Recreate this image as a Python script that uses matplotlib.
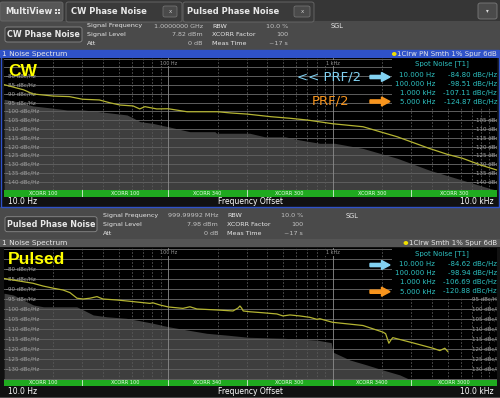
import matplotlib
matplotlib.use('Agg')
import matplotlib.pyplot as plt
from matplotlib.patches import Rectangle, FancyBboxPatch, Polygon

# ---- data ----
cw_freq = [10, 13.2, 15, 20, 25, 30, 38, 44, 51, 61, 67, 72, 85, 100, 130, 200, 240, 300,
           420, 550, 700, 1000, 1530, 2470, 3870, 5000, 6160, 8000, 10000]
cw_trace = [-84.8, -87.8, -90.1, -91.3, -91.6, -93.1, -93.5, -95.1, -96.4, -96.9, -98.6, -97.3,
            -98.6, -98.5, -100.2, -100.2, -100.9, -101.5, -103.0, -103.9, -104.9, -107.0,
            -108.7, -114.4, -121.0, -124.4, -126.6, -130.5, -133.3]
cw_floor_freq = [10, 12, 15, 20, 24.2, 30.3, 38.4, 56, 61, 67.2, 80.5, 100, 135, 192, 197, 313,
                 386, 514, 631, 836, 1030, 1528, 2473, 3866, 6164, 9040, 10000]
cw_floor = [-93.1, -94.5, -96.9, -98.2, -99.2, -99.2, -100.2, -102.0, -103.7, -105.8, -106.8,
            -108.7, -111.5, -111.5, -112.4, -112.4, -114.4, -114.4, -116.2, -118.1, -118.1,
            -121.0, -126.6, -133.3, -139.0, -143.7, -144.7]

pl_freq = [10, 12, 15, 17.3, 20, 22.9, 25.2, 27.8, 30.3, 33.3, 36.8, 40, 48.7, 60.9, 77.3, 80.5,
           88.9, 100, 122.7, 135.3, 149.2, 197.5, 247.3, 266, 272.6, 279, 285.6, 313.5, 375.9,
           457.7, 498, 549.5, 631, 726, 801.7, 835.6, 922, 1000, 1528, 2019, 2100, 2198, 2260,
           2322, 3076, 4070, 4487, 4812, 5022]
pl_trace = [-84.6, -85.7, -87.0, -88.4, -89.5, -90.4, -91.7, -94.5, -94.9, -94.5, -93.7, -94.9,
            -95.4, -96.2, -97.1, -96.8, -97.9, -98.9, -99.6, -98.8, -99.9, -100.4, -100.9, -99.4,
            -98.4, -99.4, -100.9, -101.3, -101.8, -102.4, -103.4, -102.9, -103.4, -104.1, -105.1,
            -104.8, -105.8, -106.6, -108.2, -111.5, -112.3, -117.1, -115.5, -114.3, -116.9,
            -119.6, -120.8, -119.6, -121.3]
pl_floor_freq = [10, 11.4, 12.5, 13.7, 15.1, 17.4, 27.7, 29, 30.4, 34.9, 42.1, 55.7, 67.2, 80.9,
                 100, 129, 171, 226, 306, 500, 800, 980, 1000, 1273, 1615, 2019, 2564, 2950]
pl_floor = [-92.0, -92.9, -94.5, -96.2, -97.9, -98.8, -98.8, -99.6, -100.4, -102.9, -103.8,
            -104.6, -105.8, -107.1, -108.8, -110.4, -112.1, -113.0, -114.1, -114.6, -115.5,
            -116.8, -121.5, -125.5, -128.0, -130.5, -133.0, -135.3]

spot_offsets = ['10.000 Hz', '100.000 Hz', '1.000 kHz', '5.000 kHz']
cw_spot = ['-84.80 dBc/Hz', '-98.51 dBc/Hz', '-107.11 dBc/Hz', '-124.87 dBc/Hz']
pl_spot = ['-84.62 dBc/Hz', '-98.94 dBc/Hz', '-106.69 dBc/Hz', '-120.88 dBc/Hz']

xcorr_edges = [10, 30, 100, 300, 1000, 3000, 10000]
cw_xcorr = ['XCORR 100', 'XCORR 100', 'XCORR 340', 'XCORR 300', 'XCORR 300', 'XCORR 300']
pl_xcorr = ['XCORR 100', 'XCORR 100', 'XCORR 340', 'XCORR 300', 'XCORR 3400', 'XCORR 3000']

W, H = 500, 398
fig = plt.figure(figsize=(5, 3.98), dpi=100)
fig.patch.set_facecolor('#4a4a4a')
plt.rcParams['font.family'] = 'DejaVu Sans'


def box(x0, y0, x1, y1, z=-1, **kw):
    r = Rectangle((x0 / W, 1 - y1 / H), (x1 - x0) / W, (y1 - y0) / H,
                  transform=fig.transFigure, zorder=z, **kw)
    fig.add_artist(r)
    return r


def rbox(x0, y0, x1, y1, z=-1, r=0.005, **kw):
    p = FancyBboxPatch((x0 / W, 1 - y1 / H), (x1 - x0) / W, (y1 - y0) / H,
                       boxstyle='round,pad=0,rounding_size=%g' % r,
                       transform=fig.transFigure, zorder=z, **kw)
    fig.add_artist(p)


def txt(x, y, s, **kw):
    kw.setdefault('va', 'center')
    kw.setdefault('fontsize', 5)
    kw.setdefault('color', '#e8e8e8')
    return fig.text(x / W, 1 - y / H, s, **kw)


def arrow(x0, x1, y, color):
    xh = x1 - 8.5
    pts = [(x0, y - 1.6), (xh, y - 1.6), (xh, y - 4.5), (x1, y), (xh, y + 4.5), (xh, y + 1.6),
           (x0, y + 1.6)]
    fig.add_artist(Polygon([(px / W, 1 - py / H) for px, py in pts], closed=True,
                           transform=fig.transFigure, color=color, zorder=6))


# ---- tab bar ----
box(0, 0, 500, 21, facecolor='#363636')
rbox(0, 2, 63, 21, facecolor='#575757', edgecolor='#6a6a6a', lw=0.6)
txt(5, 12, 'MultiView', fontsize=6, fontweight='bold')
for dx, dy in [(0, 0), (3, 0), (0, 3), (3, 3)]:
    box(55 + dx, 9 + dy, 57 + dx, 11 + dy, z=2, facecolor='#dddddd')
rbox(66, 2, 182, 22, facecolor='#3a3a3a', edgecolor='#6a6a6a', lw=0.6)
txt(71, 12, 'CW Phase Noise', fontsize=6, fontweight='bold')
rbox(163, 6, 177, 17, z=1, facecolor='#4a4a4a', edgecolor='#7a7a7a', lw=0.5, r=0.004)
txt(170, 11.5, 'x', fontsize=4, ha='center', color='#cccccc')
rbox(183, 2, 314, 22, facecolor='#3a3a3a', edgecolor='#6a6a6a', lw=0.6)
txt(187, 12, 'Pulsed Phase Noise', fontsize=6, fontweight='bold')
rbox(294, 6, 310, 17, z=1, facecolor='#4a4a4a', edgecolor='#7a7a7a', lw=0.5, r=0.004)
txt(302, 11.5, 'x', fontsize=4, ha='center', color='#cccccc')
rbox(478, 3, 497, 19, facecolor='#4a4a4a', edgecolor='#7a7a7a', lw=0.6)
txt(487.5, 11, '\u25be', fontsize=4, ha='center', color='#dddddd')


def info(y0, name, bx1, lx, vx, l2x, v2x, sglx, freq, level):
    rbox(5, y0 + 7, bx1, y0 + 22, facecolor='#3a3a3a', edgecolor='#8a8a8a', lw=0.6)
    txt((5 + bx1) / 2, y0 + 14.8, name, fontsize=5.8, fontweight='bold', ha='center')
    rows = [('Signal Frequency', freq, 'RBW', '10.0 %'),
            ('Signal Level', level, 'XCORR Factor', '100'),
            ('Att', '0 dB', 'Meas Time', '~17 s')]
    for i, (a, b, c, d) in enumerate(rows):
        yy = y0 + 6 + i * 8.7
        txt(lx, yy, a, fontsize=4.6)
        txt(vx, yy, b, ha='right', color='#c4c4c4', fontsize=4.6)
        txt(l2x, yy, c, fontsize=4.6)
        txt(v2x, yy, d, ha='right', color='#c4c4c4', fontsize=4.6)
    txt(sglx, y0 + 6, 'SGL', fontsize=4.8)


info(20, 'CW Phase Noise', 82, 87, 203, 212, 288, 331, '1.0000000 GHz', '7.82 dBm')
info(209.7, 'Pulsed Phase Noise', 97, 103, 218, 227, 303, 346, '999.99992 MHz', '7.98 dBm')


def panel(top, bot, ylo, yhi, title_y, title_col, trace_label,
          freq, trace, ffreq, floor, left_lab, right_lab, right_x, xcorr):
    # frame and title bar
    box(0, title_y - 4, 500, bot + 17, facecolor='#111111')
    box(0, title_y - 4, 500, title_y + 4, facecolor=title_col)
    txt(2, title_y, '1 Noise Spectrum', fontsize=5.3)
    t = txt(497, title_y, trace_label, fontsize=5, ha='right')
    fig.canvas.draw()
    bb = t.get_window_extent()
    fig.add_artist(plt.Circle(((bb.x0 - 3) / W, 1 - title_y / H), 1.6 / W,
                              transform=fig.transFigure, color='#f0e000', zorder=3))

    ax = fig.add_axes([4 / W, 1 - bot / H, 493 / W, (bot - top) / H])
    ax.set_facecolor('black')
    ax.set_xscale('log')
    ax.set_xlim(10, 10000)
    ax.set_ylim(ylo, yhi)
    ax.set_xticks([])
    ax.set_yticks([])
    ax.minorticks_off()
    for s in ax.spines.values():
        s.set_visible(False)
    ax.fill_between(ffreq, floor, ylo, color='#3e3e3e', lw=0, zorder=1)
    for d in range(-145, -65, 5):
        ax.axhline(d, color='#5e5e5e', lw=0.7, zorder=2)
    for e in (1, 2, 3):
        for k in range(2, 10):
            ax.axvline(k * 10 ** e, color='#5a5a5a', lw=0.6, ls=(0, (2, 2)), zorder=2)
    for m in (100, 1000):
        ax.axvline(m, color='#8c8c8c', lw=0.6, zorder=2)
    ax.text(100, 0.962, '100 Hz', transform=ax.get_xaxis_transform(), fontsize=3.5,
            color='#9a9a9a', ha='center', va='center', zorder=3,
            bbox=dict(facecolor='black', edgecolor='none', pad=0.3))
    ax.text(1000, 0.962, '1 kHz', transform=ax.get_xaxis_transform(), fontsize=3.5,
            color='#9a9a9a', ha='center', va='center', zorder=3,
            bbox=dict(facecolor='black', edgecolor='none', pad=0.3))
    for d in left_lab:
        ax.text(0.005, d, '%d dBc/Hz' % d, transform=ax.get_yaxis_transform(), fontsize=4,
                color='#a0a0a0', va='center', zorder=3)
    for d in right_lab:
        ax.text(right_x, d, '%d dBc/Hz' % d, transform=ax.get_yaxis_transform(), fontsize=4,
                color='#a0a0a0', va='center', zorder=3, clip_on=True)
    ax.plot(freq, trace, color='#b4b432', lw=0.9, zorder=4)

    # XCORR bar
    gx = fig.add_axes([4 / W, 1 - (bot + 6.5) / H, 493 / W, 6.5 / H])
    gx.set_facecolor('#1faa1f')
    gx.set_xscale('log')
    gx.set_xlim(10, 10000)
    gx.set_ylim(0, 1)
    gx.set_xticks([])
    gx.set_yticks([])
    gx.minorticks_off()
    for s in gx.spines.values():
        s.set_visible(False)
    for e in xcorr_edges[1:-1]:
        gx.axvline(e, color='#d8f0d8', lw=0.6)
    for i, lab in enumerate(xcorr):
        c = (xcorr_edges[i] * xcorr_edges[i + 1]) ** 0.5
        gx.text(c, 0.5, lab, fontsize=3.6, color='#e8ffe8', ha='center', va='center')

    # bottom label bar
    yb = bot + 11.5
    txt(8, yb, '10.0 Hz', fontsize=5.5, color='white')
    txt(250, yb, 'Frequency Offset', fontsize=5.5, color='white', ha='center')
    txt(494, yb, '10.0 kHz', fontsize=5.5, color='white', ha='right')


panel(58, 190, -144.6, -69.7, 54, '#2f52c8', '1Clrw PN Smth 1% Spur 6dB',
      cw_freq, cw_trace, cw_floor_freq, cw_floor,
      list(range(-140, -75, 5)), list(range(-140, -100, 5)), 0.953, cw_xcorr)
panel(248, 379.5, -135.3, -69.3, 243, '#555555', '1Clrw Smth 1% Spur 6dB',
      pl_freq, pl_trace, pl_floor_freq, pl_floor,
      list(range(-130, -75, 5)), list(range(-130, -90, 5)), 0.945, pl_xcorr)

# active window outline
fig.add_artist(Rectangle((0.8 / W, 1 - 206.5 / H), 498.4 / W, 156.5 / H, transform=fig.transFigure,
                         fill=False, edgecolor='#2f52c8', lw=1.0, zorder=8))

# ---- overlays: titles, PRF arrows, spot noise tables ----
txt(8, 71.5, 'CW', fontsize=12.5, fontweight='bold', color='#ffff00',
    family='Liberation Sans', zorder=7)
txt(8, 259, 'Pulsed', fontsize=12.5, fontweight='bold', color='#ffff00',
    family='Liberation Sans', zorder=7)
txt(297, 77, '<< PRF/2', fontsize=9.5, color='#82d2f2', zorder=7)
txt(312, 101, 'PRF/2', fontsize=9.5, color='#f7941d', zorder=7)


def spot_table(top, ys, values):
    box(392, top, 497, ys[-1] + 5, z=5, facecolor='black')
    txt(442, top + 5.5, 'Spot Noise [T1]', color='#2ec2c2', ha='center', zorder=7)
    for yy, a, b in zip(ys, spot_offsets, values):
        txt(435, yy, a, color='#2ec2c2', ha='right', zorder=7)
        txt(497, yy, b, color='#2ec2c2', ha='right', zorder=7)


spot_table(58.5, [75, 83.7, 92.7, 101.7], cw_spot)
spot_table(248.5, [264, 272.9, 282.3, 291.5], pl_spot)
arrow(370, 390, 77, '#82d2f2')
arrow(370, 390, 101.5, '#f7941d')
arrow(370, 390, 265, '#82d2f2')
arrow(370, 390, 291.7, '#f7941d')

fig.savefig('out.png', dpi=100, facecolor=fig.get_facecolor())
